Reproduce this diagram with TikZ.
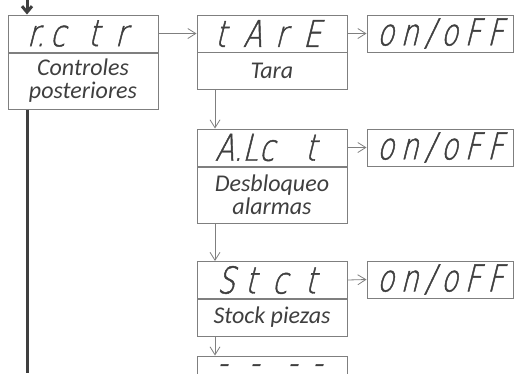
\documentclass[tikz,border=0pt]{standalone}
\usepackage{fontspec}
\usetikzlibrary{arrows.meta}
\setmainfont{Carlito}
\newfontfamily\segfont{DejaVu Sans ExtraLight}[FakeSlant=0.25,FakeStretch=0.75,FakeBold=1.2]
\newfontfamily\segwide{DejaVu Sans ExtraLight}[FakeSlant=0.25,FakeStretch=0.75,FakeBold=1.2,LetterSpace=18]
\newcommand\cell[2]{\makebox[#1pt][l]{#2}}
\definecolor{boxgray}{HTML}{7F7F7F}
\definecolor{txt}{HTML}{3F3F3F}
\begin{document}
\begin{tikzpicture}[x=1pt,y=-1pt,
 seg/.style={draw=boxgray, line width=1pt, minimum width=150pt, minimum height=37pt, inner sep=0pt, font=\segfont\fontsize{37}{37}\selectfont, text=txt},
 onoff/.style={seg, minimum width=146pt, font=\segwide\fontsize{37}{37}\selectfont},
 lbl/.style={draw=boxgray, line width=1pt, minimum width=150pt, inner sep=0pt, font=\itshape\fontsize{24}{23}\selectfont, text=txt, align=center},
 arr/.style={draw=boxgray, line width=0.8pt, -{Straight Barb[length=8pt,width=10pt]}},
 mainline/.style={draw=txt, line width=3pt}]
\useasboundingbox (0,0) rectangle (521,373);
\clip (0,0) rectangle (521,373);
\node[seg] (rctr) at (83,33.5) {\makebox[112pt][l]{\cell{23}{r.}\cell{38}{c}\cell{27}{t}r}};
\node[lbl, minimum height=56pt] (rctrL) at (83,81) {Controles\\posteriores};
\node[seg] (tare) at (272,33.5) {\makebox[114pt][l]{\cell{28}{t}\cell{32}{A}\cell{28}{r}E}};
\node[lbl, minimum height=37pt] (tareL) at (272,70.5) {Tara};
\node[onoff] (on1) at (440,33.5) {on/oFF};
\node[seg] (alct) at (272,147.5) {\makebox[114pt][l]{\cell{44}{A.L}\cell{46}{c}t}};
\node[lbl, minimum height=56pt] (alctL) at (272,195) {Desbloqueo\\alarmas};
\node[onoff] (on2) at (440,147.5) {on/oFF};
\node[seg] (stct) at (272,280) {\makebox[110pt][l]{\cell{28}{S}\cell{27}{t}\cell{33}{c}t}};
\node[lbl, minimum height=37pt] (stctL) at (272,317.5) {Stock piezas};
\node[onoff] (on3) at (440,279.5) {on/oFF};
\node[seg] (dash) at (272,374.5) {\raisebox{9.5pt}{\makebox[110pt][l]{\cell{32}{-}\cell{38}{-}\cell{25}{-}-}}};
\draw[arr] (rctr.east) -- (tare.west);
\draw[arr] (tare.east) -- (on1.west);
\draw[arr] (alct.east) -- (on2.west);
\draw[arr] (stct.east) -- (on3.west);
\draw[arr] ([xshift=-57pt]tareL.south) -- ([xshift=-57pt]alct.north);
\draw[arr] ([xshift=-57pt]alctL.south) -- ([xshift=-57pt]stct.north);
\draw[arr] ([xshift=-57pt]stctL.south) -- ([xshift=-57pt]dash.north);
\coordinate (topin) at (27,0);
\coordinate (botout) at (27,373);
\draw[mainline, -{Straight Barb[length=6pt,width=10pt]}] (topin) -- (rctr.north -| topin);
\draw[mainline] (rctrL.south -| botout) -- (botout);
\end{tikzpicture}
\end{document}
